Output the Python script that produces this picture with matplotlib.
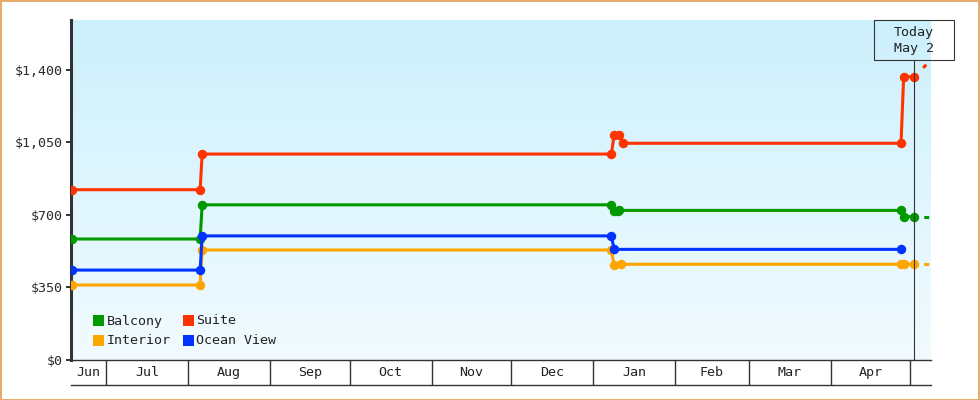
#!/usr/bin/env python3
import matplotlib

matplotlib.use("Agg")
import matplotlib.dates as mdates
import matplotlib.patches as patches
import matplotlib.pyplot as plt
import numpy as np
import pandas as pd

W, H = 980, 400
DPI = 100

series_names = ["Balcony", "Suite", "Interior", "Ocean View"]
series_colors = ["#009900", "#ff3300", "#ffa500", "#0033ff"]

balcony_dates = ["2024-06-18", "2024-08-05 12:00", "2024-08-06 06:00", "2025-01-08", "2025-01-09",
                 "2025-01-10 12:00", "2025-01-11", "2025-04-27 12:00", "2025-04-28 12:00", "2025-05-02 12:00"]
balcony_prices = [584, 584, 749, 749, 719, 719, 722, 722, 692, 692]

suite_dates = ["2024-06-18", "2024-08-05 12:00", "2024-08-06 06:00", "2025-01-08", "2025-01-09",
               "2025-01-11", "2025-01-12 06:00", "2025-04-27 12:00", "2025-04-28 12:00", "2025-05-02 12:00"]
suite_prices = [822, 822, 994, 994, 1086, 1086, 1046, 1046, 1367, 1367]

interior_dates = ["2024-06-18", "2024-08-05 12:00", "2024-08-06 06:00", "2025-01-08", "2025-01-09",
                  "2025-01-11 12:00", "2025-04-27 12:00", "2025-04-28 12:00", "2025-05-02 12:00"]
interior_prices = [362, 362, 531, 531, 458, 462, 462, 462, 462]

ocean_dates = ["2024-06-18", "2024-08-05 12:00", "2024-08-06 06:00", "2025-01-08", "2025-01-09",
               "2025-04-27 12:00"]
ocean_prices = [434, 434, 599, 599, 534, 534]

# dashed outlook after today (Ocean View has none)
proj_dates = ["2025-05-02 12:00", "2025-05-09"]
balcony_proj = [692, 692]
suite_proj = [1367, 1450]
interior_proj = [462, 462]

today = "2025-05-02 12:00"
today_label = "Today\nMay 2"

x_start, x_end = "2024-06-17 16:00", "2025-05-08 20:00"
y_max = 1641
y_ticks = [0, 350, 700, 1050, 1400]

month_starts = ["2024-06-01", "2024-07-01", "2024-08-01", "2024-09-01", "2024-10-01", "2024-11-01",
                "2024-12-01", "2025-01-01", "2025-02-01", "2025-03-01", "2025-04-01", "2025-05-01",
                "2025-06-01"]
month_labels = ["Jun", "Jul", "Aug", "Sep", "Oct", "Nov", "Dec", "Jan", "Feb", "Mar", "Apr", "May"]

INK = "#333333"


def dn(values):
    return mdates.date2num(pd.to_datetime(values, format="mixed"))


def px(x, y):
    # pixel (from top-left) -> figure fraction
    return x / W, 1 - y / H


def main() -> None:
    plt.rcParams["font.family"] = ["DejaVu Sans Mono", "DejaVu Sans"]
    plt.rcParams["font.size"] = 9.6
    plt.rcParams["lines.scale_dashes"] = False

    fig = plt.figure(figsize=(W / DPI, H / DPI), dpi=DPI, facecolor="white")
    L, B = px(71, 360)
    ax = fig.add_axes([L, B, 860 / W, 340 / H])

    x0, x1 = dn([x_start, x_end])
    # soft vertical gradient background
    top = np.array([204, 240, 252]) / 255
    bot = np.array([242, 251, 255]) / 255
    t = np.linspace(0, 1, 256)[:, None]
    grad = (bot + (top - bot) * t).reshape(256, 1, 3)
    ax.imshow(grad, extent=(x0, x1, 0, y_max), origin="lower", aspect="auto", zorder=0)

    data = [
        (balcony_dates, balcony_prices, balcony_proj),
        (suite_dates, suite_prices, suite_proj),
        (interior_dates, interior_prices, interior_proj),
        (ocean_dates, ocean_prices, None),
    ]
    # dash style per outlook: gap first, then a short dash (points)
    proj_styles = [(7.0, (3.6, 7.0)), (9.0, (3.3, 9.0)), (7.0, (3.6, 7.0)), None]
    for (d, p, proj), color, style in zip(data, series_colors, proj_styles):
        ax.plot(dn(d), p, color=color, lw=2.2, marker="o", ms=5.8, mec=color, zorder=3)
        if proj is not None:
            on, off = style[1]
            ax.plot(dn(proj_dates), proj, color=color, lw=2.2, linestyle=(on, (on, off)), zorder=3)

    ax.axvline(dn([today])[0], ymin=0, ymax=(360 - 60) / 340, color=INK, lw=0.8, zorder=4)

    ax.set_xlim(x0, x1)
    ax.set_ylim(0, y_max)
    ax.set_xticks([])
    ax.set_yticks(y_ticks)
    ax.set_yticklabels([f"${v:,}" for v in y_ticks])
    ax.tick_params(axis="y", direction="out", length=3.6, width=1.4, color=INK, labelcolor="#2a2a2a", pad=2)
    for side in ("top", "right"):
        ax.spines[side].set_visible(False)
    ax.spines["left"].set_linewidth(2.2)
    ax.spines["left"].set_color(INK)
    ax.spines["bottom"].set_linewidth(1.0)
    ax.spines["bottom"].set_color(INK)

    # month band under the plot
    bl, bb = px(71, 385)
    band = fig.add_axes([bl, bb, 860 / W, 25 / H])
    band.set_xlim(x0, x1)
    band.set_ylim(0, 1)
    band.set_xticks([])
    band.set_yticks([])
    band.patch.set_alpha(0)
    for side in ("top", "right", "left"):
        band.spines[side].set_visible(False)
    band.spines["bottom"].set_linewidth(1.0)
    band.spines["bottom"].set_color(INK)
    starts = dn(month_starts)
    for i, label in enumerate(month_labels):
        a, b = max(starts[i], x0), min(starts[i + 1], x1)
        if x0 < starts[i] < x1:
            band.axvline(starts[i], color=INK, lw=1.0)
        if (b - a) > 10:
            band.text((a + b) / 2, 0.5, label, ha="center", va="center", color="#222222")

    # legend drawn by hand: two columns
    legend_pos = [(93, 315), (93, 335), (183, 315), (183, 335)]
    legend_order = [0, 2, 1, 3]
    for (lx, ly), idx in zip(legend_pos, legend_order):
        fx, fy = px(lx, ly + 11)
        fig.add_artist(patches.Rectangle((fx, fy), 11 / W, 11 / H, transform=fig.transFigure,
                                         facecolor=series_colors[idx], edgecolor="none"))
        tx, ty = px(lx + 13.5, ly + 6)
        fig.text(tx, ty, series_names[idx], ha="left", va="center", color="#222222")

    # today box
    rx, ry = px(874, 60)
    fig.add_artist(patches.Rectangle((rx, ry), 80 / W, 40 / H, transform=fig.transFigure,
                                     fill=False, edgecolor=INK, lw=0.8))
    for line, yy in zip(today_label.split("\n"), (32.5, 48.5)):
        fig.text(*px(914, yy), line, ha="center", va="center", color="#222222")

    # outer frame
    fig.add_artist(patches.Rectangle((0.5 / W, 0.5 / H), 1 - 1.5 / W, 1 - 1.5 / H,
                                     transform=fig.transFigure, fill=False,
                                     edgecolor="#e8aa66", lw=1.4))

    fig.savefig("out.png", dpi=DPI, facecolor="white")
    plt.close(fig)


if __name__ == "__main__":
    main()
